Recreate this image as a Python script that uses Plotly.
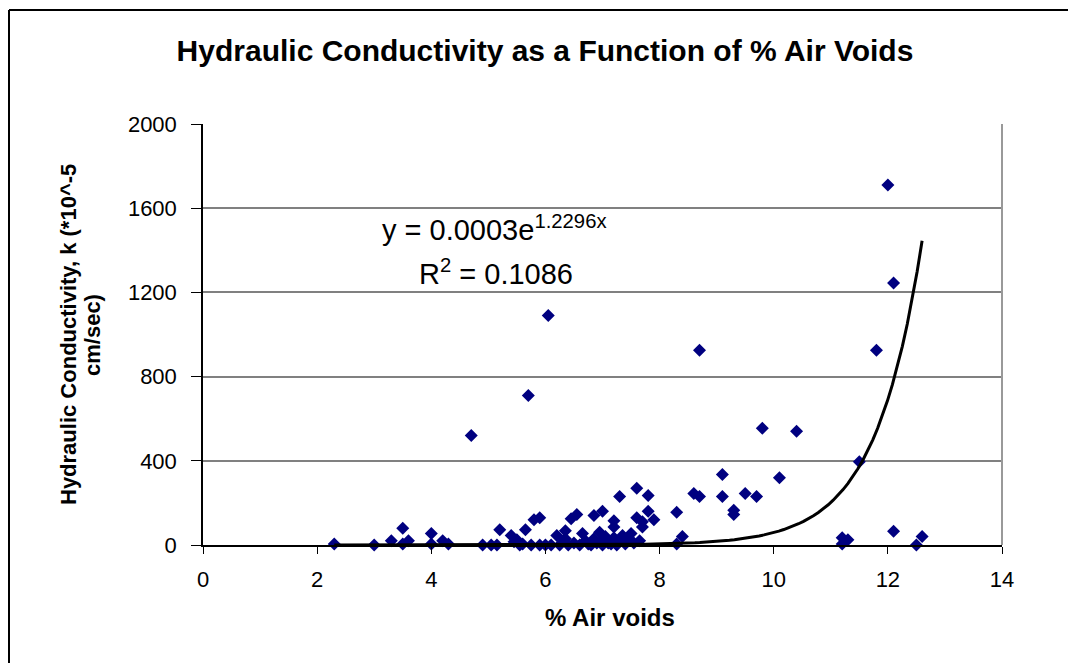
import numpy as np
import plotly.graph_objects as go

# % air voids and hydraulic conductivity (k, *10^-5 cm/sec)
air_voids = [2.3, 3.0, 3.3, 3.5, 3.5, 3.6, 4.0, 4.0, 4.2, 4.3, 4.7, 4.9, 5.05, 5.15, 5.2,
             5.4, 5.45, 5.5, 5.55, 5.6, 5.65, 5.7, 5.75, 5.8, 5.9, 5.9, 6.0, 6.05, 6.1, 6.2,
             6.25, 6.35, 6.35, 6.4, 6.45, 6.5, 6.55, 6.6, 6.65, 6.7, 6.75, 6.8, 6.85, 6.85,
             6.9, 6.95, 7.0, 7.0, 7.0, 7.05, 7.1, 7.15, 7.2, 7.2, 7.2, 7.25, 7.3, 7.3, 7.35,
             7.4, 7.45, 7.5, 7.55, 7.6, 7.6, 7.65, 7.7, 7.7, 7.8, 7.8, 7.9, 8.3, 8.3, 8.4,
             8.6, 8.7, 8.7, 9.1, 9.1, 9.3, 9.3, 9.5, 9.7, 9.8, 10.1, 10.4, 11.2, 11.2, 11.3,
             11.5, 11.8, 12.0, 12.1, 12.1, 12.5, 12.6]
conductivity = [5, 0, 20, 80, 5, 20, 55, 5, 20, 5, 520, 0, 0, 0, 72,
                45, 15, 25, 0, 5, 72, 710, 0, 120, 130, 0, 0, 1090, 0, 45,
                0, 68, 30, 0, 125, 10, 145, 0, 55, 20, 5, 0, 140, 30,
                10, 60, 160, 25, 0, 40, 10, 5, 115, 85, 35, 0, 230, 20, 45,
                5, 30, 55, 10, 270, 130, 20, 110, 85, 235, 160, 120, 155, 5, 40,
                245, 230, 925, 335, 230, 165, 145, 245, 230, 555, 320, 540, 35, 5, 25,
                395, 925, 1710, 1245, 65, 0, 40]

# exponential trendline y = a * exp(b x) (displayed a is rounded to 0.0003)
trend_a = 0.00027
trend_b = 1.2296
trend_x = np.linspace(min(air_voids), max(air_voids), 120)
trend_y = trend_a * np.exp(trend_b * trend_x)

x_ticks = [0, 2, 4, 6, 8, 10, 12, 14]
y_ticks = [0, 400, 800, 1200, 1600, 2000]

FONT = "Liberation Sans, Arial, sans-serif"
W, H = 1068, 663
L, R, T, B = 203, 1002, 124, 545   # plot area in pixels


def px(xp):
    return (xp - L) / (R - L)


def py(yp):
    return (B - yp) / (B - T)


fig = go.Figure()
fig.add_trace(go.Scatter(
    x=air_voids, y=conductivity, mode="markers",
    marker=dict(symbol="diamond", size=10, color="#000080", line=dict(width=0)),
    showlegend=False, cliponaxis=False))
fig.add_trace(go.Scatter(
    x=trend_x, y=trend_y, mode="lines",
    line=dict(color="black", width=3), showlegend=False))

fig.update_layout(
    width=W, height=H,
    margin=dict(l=L, r=W - R, t=T, b=H - B),
    paper_bgcolor="white", plot_bgcolor="white",
    font=dict(family=FONT, color="black", size=22),
    title=dict(text="<b>Hydraulic Conductivity as a Function of % Air Voids</b>",
               x=545 / W, xanchor="center", y=1 - 50 / H, yanchor="middle",
               font=dict(size=30, family=FONT)),
    xaxis=dict(range=[0, 14], tickvals=x_ticks, ticks="outside", ticklen=7,
               tickcolor="black", showline=True, linecolor="black", linewidth=1.5,
               showgrid=False, zeroline=False, tickfont=dict(size=22),
               ticklabelstandoff=7),
    yaxis=dict(range=[0, 2000], tickvals=y_ticks, ticks="outside", ticklen=10,
               tickcolor="black", showline=True, linecolor="black", linewidth=1.5,
               showgrid=True, gridcolor="#808080", gridwidth=1.5, zeroline=False,
               tickfont=dict(size=22), ticklabelstandoff=10),
    shapes=[
        dict(type="line", xref="paper", yref="paper", x0=px(1002), x1=px(1002),
             y0=0, y1=1, line=dict(color="#999999", width=2)),
        dict(type="line", xref="paper", yref="paper", x0=px(9), x1=px(1070),
             y0=py(10), y1=py(10), line=dict(color="black", width=2)),
        dict(type="line", xref="paper", yref="paper", x0=px(9), x1=px(9),
             y0=py(10), y1=py(670), line=dict(color="black", width=2)),
    ],
    annotations=[
        dict(text="<b>Hydraulic Conductivity, k (*10^-5</b>",
             xref="paper", yref="paper", x=px(68), y=py(335),
             xanchor="center", yanchor="middle", textangle=-90, showarrow=False,
             font=dict(size=22, family=FONT)),
        dict(text="<b>cm/sec)</b>",
             xref="paper", yref="paper", x=px(92), y=py(335),
             xanchor="center", yanchor="middle", textangle=-90, showarrow=False,
             font=dict(size=22, family=FONT)),
        dict(text="<b>% Air voids</b>",
             xref="paper", yref="paper", x=px(610), y=py(617),
             xanchor="center", yanchor="middle", showarrow=False,
             font=dict(size=24, family=FONT)),
        dict(text="y = 0.0003e<sup>1.2296x</sup>", xref="paper", yref="paper",
             x=px(494), y=py(228), xanchor="center",
             yanchor="middle", showarrow=False, font=dict(size=29, family=FONT)),
        dict(text="R<sup>2</sup> = 0.1086", xref="paper", yref="paper",
             x=px(496), y=py(272), xanchor="center",
             yanchor="middle", showarrow=False, font=dict(size=29, family=FONT)),
    ],
)

fig.write_html("out.html", config={"displayModeBar": False},
               post_script="document.body.style.margin='0px';")
